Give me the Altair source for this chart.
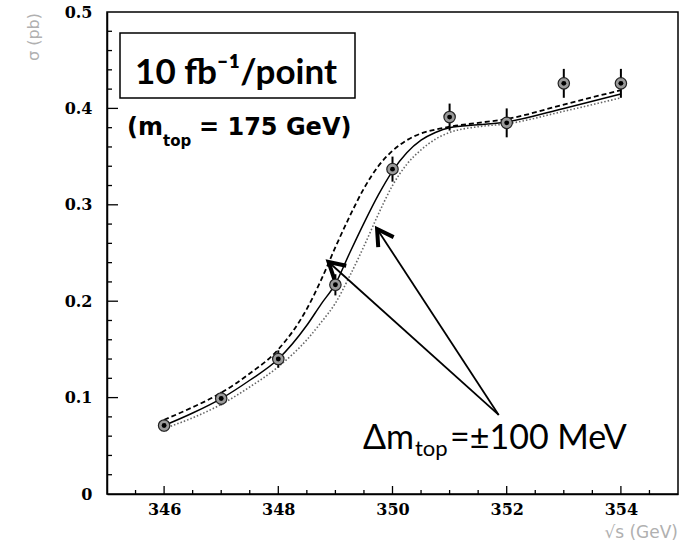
import altair as alt
import pandas as pd

# ---- measured data points ----
energy = [346, 347, 348, 349, 350, 351, 352, 353, 354]
sigma = [0.071, 0.099, 0.140, 0.217, 0.337, 0.391, 0.385, 0.426, 0.426]
sigma_err = [0.006, 0.007, 0.009, 0.011, 0.013, 0.014, 0.015, 0.015, 0.015]

# ---- theory curves ----
curve_e = [346, 346.5, 347, 347.5, 348, 348.5, 348.75, 349, 349.25, 349.5,
           349.75, 350, 350.25, 350.5, 350.75, 351, 351.5, 352, 353, 354]
curve_nominal = [0.071, 0.084, 0.099, 0.118, 0.140, 0.175, 0.197, 0.218, 0.250, 0.281,
                 0.310, 0.335, 0.354, 0.367, 0.375, 0.380, 0.383, 0.386, 0.400, 0.415]
curve_minus = [0.077, 0.090, 0.105, 0.125, 0.150, 0.192, 0.222, 0.256, 0.288, 0.317,
               0.340, 0.356, 0.367, 0.374, 0.378, 0.381, 0.385, 0.389, 0.404, 0.419]
curve_plus = [0.068, 0.079, 0.093, 0.111, 0.132, 0.160, 0.178, 0.198, 0.226, 0.257,
              0.290, 0.320, 0.342, 0.357, 0.368, 0.375, 0.381, 0.384, 0.397, 0.411]

# ---- axis ticks ----
x_labels = [346, 348, 350, 352, 354]
x_minor = [345.5, 346.5, 347, 347.5, 348.5, 349, 349.5, 350.5, 351, 351.5,
           352.5, 353, 353.5, 354.5]
y_labels = [0, 0.1, 0.2, 0.3, 0.4, 0.5]
y_major = [0.1, 0.2, 0.3, 0.4]
y_minor = [0.02, 0.04, 0.06, 0.08, 0.12, 0.14, 0.16, 0.18, 0.22, 0.24, 0.26, 0.28,
           0.32, 0.34, 0.36, 0.38, 0.42, 0.44, 0.46, 0.48]

# ---- arrow annotation (data coordinates) ----
arrow_tail = [351.86, 0.082]
arrow_tip_x = [348.88, 349.73]
arrow_tip_y = [0.2407, 0.2749]
head_id = [1, 1, 1, 2, 2, 2]
head_k = [0, 1, 2, 0, 1, 2]
head_x = [348.98, 348.88, 349.19, 349.75, 349.73, 350.02]
head_y = [0.2229, 0.2407, 0.2368, 0.2562, 0.2749, 0.2665]

W, H = 571, 482
XD = [345, 355]
YD = [0, 0.5]
xs = alt.Scale(domain=XD, nice=False, zero=False)
ys = alt.Scale(domain=YD, nice=False)

pts = pd.DataFrame({"e": energy, "s": sigma,
                    "lo": [a - b for a, b in zip(sigma, sigma_err)],
                    "hi": [a + b for a, b in zip(sigma, sigma_err)]})
cdf = pd.DataFrame({"e": curve_e, "nom": curve_nominal, "minus": curve_minus, "plus": curve_plus})

serif = "DejaVu Serif"
axis_x = alt.Axis(values=x_labels, ticks=False, grid=False, domain=True, domainColor="black",
                  domainWidth=1.5, labelFont=serif, labelFontWeight="bold", labelFontSize=16,
                  labelColor="black", labelPadding=7, format="d", title=None)
axis_y = alt.Axis(values=y_labels, ticks=False, grid=False, domain=True, domainColor="black",
                  domainWidth=1.5, labelFont=serif, labelFontWeight="bold", labelFontSize=16,
                  labelColor="black", labelPadding=15,
                  labelExpr="datum.value == 0 ? '0' : format(datum.value, '.1f')", title=None)


def X(f):
    return alt.X(f, scale=xs, axis=axis_x)


def Y(f):
    return alt.Y(f, scale=ys, axis=axis_y)


base_c = alt.Chart(cdf)
solid = base_c.mark_line(color="black", strokeWidth=1.5, interpolate="monotone").encode(
    x=X("e:Q"), y=Y("nom:Q"))
dashed = base_c.mark_line(color="black", strokeWidth=1.8, strokeDash=[5, 3],
                          interpolate="monotone").encode(x=X("e:Q"), y=Y("minus:Q"))
dotted = base_c.mark_line(color="#666666", strokeWidth=1.6, strokeDash=[1.5, 2],
                          interpolate="monotone").encode(x=X("e:Q"), y=Y("plus:Q"))

base_p = alt.Chart(pts)
errs = base_p.mark_rule(color="black", strokeWidth=2).encode(
    x=X("e:Q"), y=Y("lo:Q"), y2="hi:Q")
rings = base_p.mark_point(shape="circle", filled=True, size=130, color="#9a9a9a",
                          stroke="#222222", strokeWidth=1.2, opacity=1).encode(
    x=X("e:Q"), y=Y("s:Q"))
dots = base_p.mark_point(shape="circle", filled=True, size=24, color="black", opacity=1).encode(
    x=X("e:Q"), y=Y("s:Q"))

# inward ticks
xmaj = alt.Chart(pd.DataFrame({"e": x_labels})).mark_rule(color="black", strokeWidth=1.3).encode(
    x=X("e:Q"), y=alt.value(H), y2=alt.value(H - 8))
xmin = alt.Chart(pd.DataFrame({"e": x_minor})).mark_rule(color="black", strokeWidth=1.3).encode(
    x=X("e:Q"), y=alt.value(H), y2=alt.value(H - 4))
ymaj = alt.Chart(pd.DataFrame({"s": y_major})).mark_rule(color="black", strokeWidth=1.3).encode(
    y=Y("s:Q"), x=alt.value(0), x2=alt.value(11))
ymin = alt.Chart(pd.DataFrame({"s": y_minor})).mark_rule(color="black", strokeWidth=1.3).encode(
    y=Y("s:Q"), x=alt.value(0), x2=alt.value(5))

# arrows
adf = pd.DataFrame({"x": [arrow_tail[0]] * 2, "y": [arrow_tail[1]] * 2,
                    "x2": arrow_tip_x, "y2": arrow_tip_y})
arrows = alt.Chart(adf).mark_rule(color="black", strokeWidth=1.8).encode(
    x=X("x:Q"), y=Y("y:Q"), x2="x2:Q", y2="y2:Q")
hdf = pd.DataFrame({"id": head_id, "k": head_k, "x": head_x, "y": head_y})
heads = alt.Chart(hdf).mark_line(color="black", strokeWidth=4, strokeCap="butt",
                                 strokeJoin="miter").encode(
    x=X("x:Q"), y=Y("y:Q"), detail="id:N", order="k:Q")

# text annotations
one = alt.Data(values=[{}])


def label(text, x, y, size, font, weight="normal", align="left", color="black",
          baseline="alphabetic", angle=0):
    return alt.Chart(one).mark_text(text=text, align=align, baseline=baseline, font=font,
                                    fontSize=size, fontWeight=weight, color=color,
                                    angle=angle).encode(
        x=alt.value(x), y=alt.value(y))


box = alt.Chart(one).mark_rect(fill="white", stroke="black", strokeWidth=1.5).encode(
    x=alt.value(13), x2=alt.value(248), y=alt.value(21), y2=alt.value(86))

t1 = label("10 fb⁻¹/point", 129, 72, 35, "Lato", "bold", "center")
t2a = label("(m", 20, 123, 24, "DejaVu Sans", "bold")
t2b = label("top", 56, 134, 15, "DejaVu Sans", "bold")
t2c = label("= 175 GeV)", 92, 123, 24, "DejaVu Sans", "bold")
t3a = label("Δm", 256, 437, 34, "Lato")
t3b = label("top", 308, 444, 22, "Lato")
t3c = label("=±100 MeV", 343, 437, 34, "Lato")

ytitle = label("σ (pb)", -73, 1, 16, "DejaVu Sans", "normal", "right", "#b0b0b0", "middle", 270)
xtitle = label("√s (GeV)", W, H + 39, 17, "DejaVu Sans", "normal", "right", "#b0b0b0", "middle")

chart = alt.layer(
    solid, dashed, dotted, errs, rings, dots, xmaj, xmin, ymaj, ymin,
    arrows, heads, box, t1, t2a, t2b, t2c, t3a, t3b, t3c, ytitle, xtitle
).properties(
    width=W, height=H,
    autosize=alt.AutoSizeParams(type="none"),
    padding={"left": 107, "top": 12, "right": 9, "bottom": 47},
    background="white",
).configure_view(stroke="black", strokeWidth=1.5)

chart.save("out.html", embed_options={"renderer": "svg", "actions": False})
